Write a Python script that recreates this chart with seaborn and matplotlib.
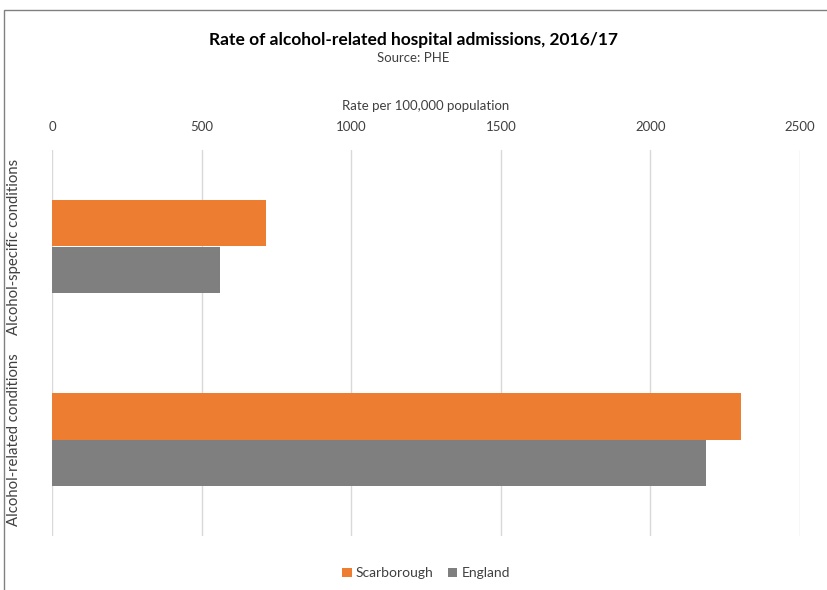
import seaborn as sns
import matplotlib.pyplot as plt
import pandas as pd
from matplotlib.patches import Rectangle

categories = ['Alcohol-specific conditions', 'Alcohol-related conditions']
series = ['Scarborough', 'England']
scarborough = [714, 2304]
england = [563, 2185]
colours = ['#ED7D31', '#7F7F7F']
xticks = [0, 500, 1000, 1500, 2000, 2500]

df = pd.DataFrame({
    'category': categories * 2,
    'series': [series[0]] * 2 + [series[1]] * 2,
    'value': scarborough + england,
})

sns.set_style('white')
plt.rcParams['font.family'] = ['Lato', 'DejaVu Sans']

fig = plt.figure(figsize=(8.27, 5.9), dpi=100)
ax = fig.add_axes([52 / 827, 1 - 536 / 590, 748 / 827, 386 / 590])

sns.barplot(data=df, y='category', x='value', hue='series', order=categories,
            hue_order=series, palette=colours, orient='h', width=0.477,
            saturation=1, edgecolor='none', linewidth=0, ax=ax)

ax.set_xlim(0, 2500)
ax.set_ylim(1.5, -0.5)
ax.set_xticks(xticks)
ax.xaxis.tick_top()
ax.xaxis.set_label_position('top')
ax.set_xlabel('Rate per 100,000 population', fontsize=9.5, color='#404040', labelpad=8)
ax.set_ylabel('')
ax.tick_params(axis='x', length=0, pad=12, labelsize=9.5, labelcolor='#404040')
ax.tick_params(axis='y', length=0, pad=27, labelsize=10.7, labelcolor='#404040')
plt.setp(ax.get_yticklabels(), rotation=90, va='center', ha='center')
ax.grid(axis='x', color='#D9D9D9', linewidth=1)
ax.set_axisbelow(True)
for s in ax.spines.values():
    s.set_visible(False)

leg = ax.legend(loc='lower center', bbox_to_anchor=(0.5, -0.145), ncol=2,
                frameon=False, fontsize=10, handlelength=0.7, handleheight=0.7,
                handletextpad=0.3, columnspacing=1.0)
for t in leg.get_texts():
    t.set_color('#404040')

fig.text(0.5, 1 - 40 / 590, 'Rate of alcohol-related hospital admissions, 2016/17',
         ha='center', va='center', fontsize=12.5, fontweight='bold', color='#000000')
fig.text(0.5, 1 - 58 / 590, 'Source: PHE', ha='center', va='center',
         fontsize=9.5, color='#404040')

fig.patches.append(Rectangle((4 / 827, -0.1), 1.2, 1 - 10 / 590 + 0.1,
                             transform=fig.transFigure, fill=False,
                             edgecolor='#808080', linewidth=1))

plt.savefig('out.png', dpi=100)
